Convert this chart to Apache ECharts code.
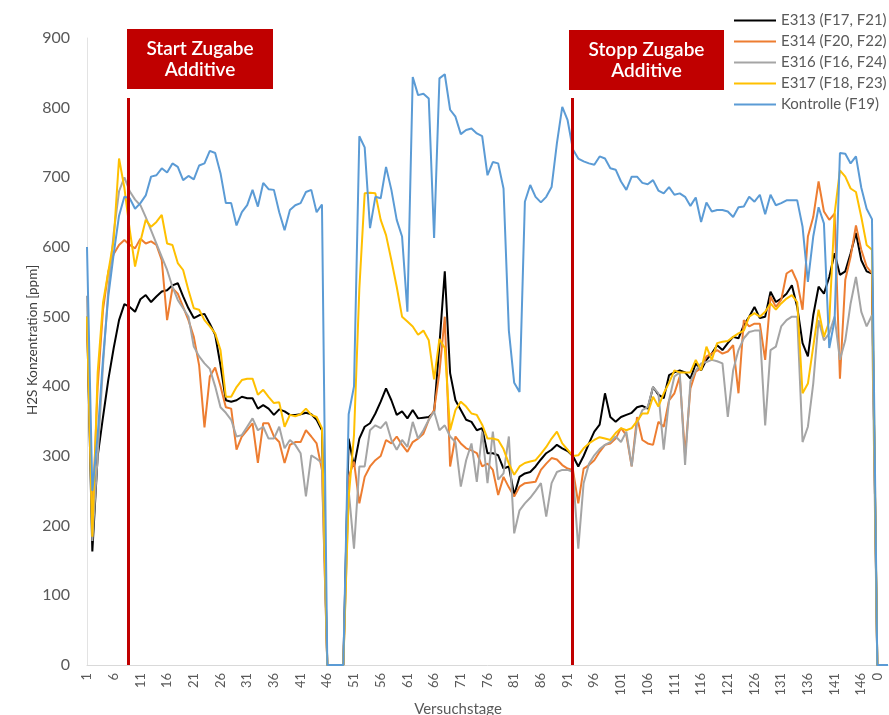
<!DOCTYPE html>
<html>
<head>
<meta charset="utf-8">
<script src="https://cdn.jsdelivr.net/npm/echarts@6/dist/echarts.min.js"></script>
<style>
  html, body { margin: 0; padding: 0; background: #ffffff; }
  #chart { width: 889px; height: 715px; }
</style>
</head>
<body>
<div id="chart"></div>
<script>
// Versuchstage 1..148, then the trailing rows of the sheet that read 0
const dayLabels = Array.from({ length: 148 }, (_, i) => String(i + 1)).concat(['0', '0', '0']);

// H2S concentration [ppm] per day
const e313 = [500,163,300,356,410,455,495,518,514,507,525,531,521,529,536,538,545,548,529,512,
  498,502,504,490,474,430,380,378,380,385,383,383,368,373,368,359,367,364,359,359,
  360,362,360,352,337,0,0,0,0,325,285,325,342,347,361,378,397,380,359,364,
  354,366,354,355,356,363,460,565,419,380,366,352,349,337,340,304,304,301,282,285,
  244,270,275,277,285,295,304,309,316,311,307,300,285,300,318,335,345,390,356,349,
  356,359,362,370,372,368,399,388,383,416,420,423,420,411,433,423,438,447,459,452,
  462,471,469,488,500,514,498,500,536,521,526,533,545,514,462,443,502,543,533,557,
  591,560,565,591,620,581,565,562,0,0,0];

const e314 = [500,210,400,510,565,590,603,610,603,598,612,605,608,603,581,495,541,533,514,495,
  471,430,341,414,427,400,370,368,309,328,337,347,290,347,347,328,320,290,316,320,
  320,337,328,318,280,0,0,0,0,270,292,232,270,285,294,300,323,318,328,316,
  306,320,325,332,352,366,420,500,285,328,318,311,308,304,285,289,280,244,270,255,
  242,256,261,262,263,280,289,297,295,287,282,280,232,282,287,294,306,316,318,325,
  340,330,285,356,323,318,316,349,342,380,390,414,301,397,421,426,443,447,452,447,
  450,459,390,495,486,490,490,438,529,514,524,562,567,550,510,615,643,694,651,639,
  648,411,553,586,631,596,572,562,0,0,0];

const e316 = [530,178,300,430,540,620,680,700,680,668,660,643,624,605,586,567,543,524,512,500,
  457,443,433,425,400,370,362,352,328,330,342,354,337,342,325,325,342,311,323,316,
  304,242,301,296,290,0,0,0,0,251,167,285,285,337,344,340,349,323,309,323,
  313,349,325,337,352,364,337,344,328,320,256,294,318,263,335,261,335,266,275,328,
  189,222,232,240,250,261,213,261,277,280,280,277,167,261,289,301,310,316,320,328,
  320,335,285,347,366,370,399,390,309,380,414,420,287,407,423,433,435,438,436,433,
  356,423,452,469,478,480,480,344,452,457,486,495,500,500,320,342,404,495,466,476,
  500,438,466,519,557,507,486,502,0,0,0];

const e317 = [500,184,420,520,565,610,727,685,625,572,608,639,629,636,646,605,603,577,567,538,
  512,510,495,486,476,452,385,385,399,409,411,411,388,395,385,376,377,342,359,357,
  360,368,359,356,340,0,0,0,0,240,330,540,677,678,677,639,617,581,543,500,
  493,486,474,480,466,410,468,455,337,366,378,371,361,359,345,325,325,323,310,289,
  273,285,290,292,294,303,313,325,335,318,309,300,301,311,318,323,327,325,323,333,
  340,337,340,350,361,361,385,371,390,405,423,420,420,420,438,423,457,438,462,464,
  465,471,476,480,500,505,500,507,519,510,519,526,531,521,390,404,457,510,471,493,
  648,710,701,684,679,643,603,596,0,0,0];

const kontrolle = [600,250,330,440,530,590,645,672,670,655,663,674,701,703,713,707,720,715,696,702,
  697,717,720,738,735,706,663,663,631,650,660,682,658,692,683,682,650,624,653,660,
  663,679,682,650,661,0,0,0,0,360,400,759,743,627,672,670,715,682,639,615,
  507,844,818,820,813,613,842,848,797,787,762,768,770,763,759,703,722,720,684,480,
  405,392,665,689,672,664,672,686,749,801,782,740,727,723,720,718,730,727,713,711,
  694,682,701,701,692,690,696,681,677,686,675,677,672,659,671,636,664,651,653,653,
  651,643,657,658,672,665,675,647,675,660,663,667,667,667,629,550,615,657,634,455,
  495,735,734,720,730,685,655,640,0,0,0];

// Start and stop of the additive dosing (day position, top of marker line in ppm)
const startDay = 8.75;
const stopDay = 91.9;
const markerTop = 814;

const seriesNames = ['E313 (F17, F21)', 'E314 (F20, F22)', 'E316 (F16, F24)', 'E317 (F18, F23)', 'Kontrolle (F19)'];
const seriesValues = [e313, e314, e316, e317, kontrolle];
const seriesColors = ['#000000', '#ED7D31', '#A5A5A5', '#FFC000', '#5B9BD5'];

const font = 'Lato, "Open Sans", sans-serif';
const chart = echarts.init(document.getElementById('chart'), null, { renderer: 'canvas' });

const lineSeries = seriesNames.map((name, k) => ({
  name: name,
  type: 'line',
  xAxisIndex: 0,
  yAxisIndex: 0,
  data: seriesValues[k],
  showSymbol: false,
  symbol: 'none',
  lineStyle: { color: seriesColors[k], width: 2 },
  itemStyle: { color: seriesColors[k] },
  emphasis: { disabled: true },
  animation: false
}));

function boxGraphic(x, y, w, h, lines) {
  return {
    type: 'group',
    x: x, y: y,
    children: [
      { type: 'rect', shape: { x: 0, y: 0, width: w, height: h }, style: { fill: '#C00000' } },
      { type: 'text', x: w / 2, y: h / 2,
        style: { text: lines.join('\n'), fill: '#ffffff', font: '600 19px ' + font,
                 align: 'center', verticalAlign: 'middle', lineHeight: 21 } }
    ]
  };
}

chart.setOption({
  animation: false,
  backgroundColor: '#ffffff',
  textStyle: { fontFamily: font },
  grid: { left: 87, right: 1, top: 38, bottom: 50, containLabel: false },
  legend: {
    data: seriesNames,
    orient: 'vertical',
    left: 729,
    top: 8,
    itemWidth: 42,
    itemHeight: 2,
    itemGap: 6,
    icon: 'rect',
    textStyle: { color: '#595959', fontSize: 15, fontFamily: font },
    selectedMode: false
  },
  xAxis: [
    {
      type: 'category',
      data: dayLabels,
      boundaryGap: false,
      axisLine: { show: true, lineStyle: { color: '#D9D9D9', width: 1 } },
      axisTick: { show: false },
      splitLine: { show: false },
      axisLabel: {
        rotate: 90,
        fontSize: 13,
        color: '#595959',
        margin: 8,
        interval: (idx) => (idx % 5 === 0 && idx < 148) || idx === 148
      }
    },
    {
      type: 'value',
      min: 1,
      max: dayLabels.length,
      show: false,
      gridIndex: 0
    }
  ],
  yAxis: {
    type: 'value',
    min: 0,
    max: 900,
    interval: 100,
    axisLine: { show: true, lineStyle: { color: '#E3E3E3', width: 1 } },
    axisTick: { show: false },
    splitLine: { show: false },
    axisLabel: { fontSize: 16, color: '#595959', margin: 17 }
  },
  series: lineSeries.concat([{
    name: 'Zugabe',
    type: 'line',
    xAxisIndex: 1,
    yAxisIndex: 0,
    data: [],
    silent: true,
    z: 5,
    markLine: {
      silent: true,
      symbol: ['none', 'none'],
      label: { show: false },
      lineStyle: { color: '#C00000', width: 3, type: 'solid' },
      animation: false,
      data: [
        [{ coord: [startDay, 0] }, { coord: [startDay, markerTop] }],
        [{ coord: [stopDay, 0] }, { coord: [stopDay, markerTop] }]
      ]
    }
  }]),
  graphic: [
    boxGraphic(127, 29, 146, 60, ['Start Zugabe', 'Additive']),
    boxGraphic(569, 30, 155, 60, ['Stopp Zugabe', 'Additive']),
    { type: 'text', x: 33, y: 340, rotation: Math.PI / 2,
      style: { text: 'H2S Konzentration [ppm]', fill: '#404040', font: '13.5px ' + font, align: 'center', verticalAlign: 'middle' } },
    { type: 'text', x: 458, y: 709,
      style: { text: 'Versuchstage', fill: '#595959', font: '15px ' + font, align: 'center', verticalAlign: 'middle' } }
  ]
});
</script>
</body>
</html>
